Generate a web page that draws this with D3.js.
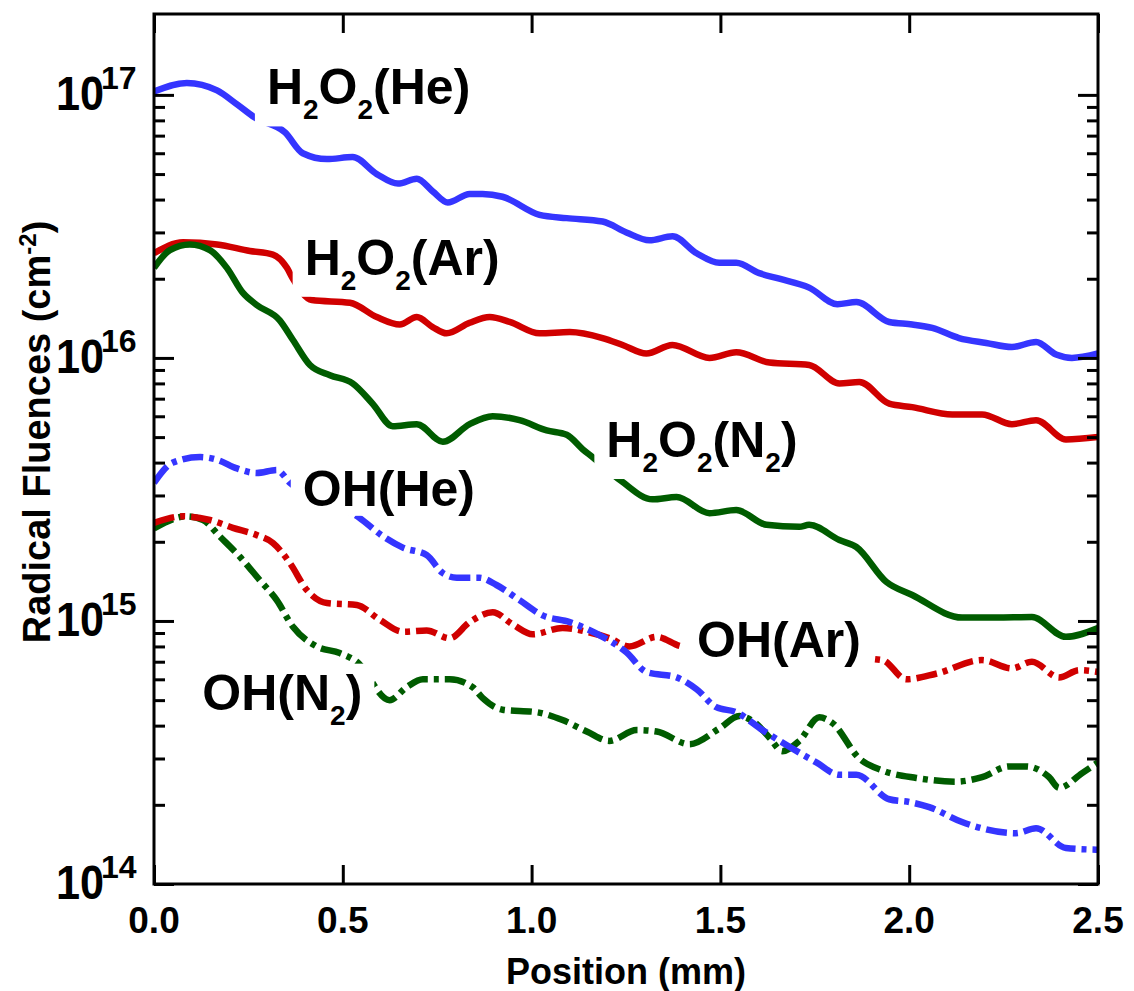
<!DOCTYPE html>
<meta charset="utf-8">
<style>
body { margin: 0; background: #fff; }
svg text { font-family: "Liberation Sans", Arial, sans-serif; font-weight: bold; fill: #000; }
.line { fill: none; stroke-width: 6.5; stroke-linejoin: round; }
.oh { stroke-dasharray: 21 6 5 6; }
.axis line { stroke: #000; stroke-width: 3; }
.axis .minor line { stroke-width: 2.5; }
</style>
<body>
<svg width="1134" height="991"></svg>
<script src="https://cdn.jsdelivr.net/npm/d3@7"></script>
<script>
// position (mm), radical fluence (cm^-2)
var h2o2He = [[0,1.03e17],[0.087,1.11e17],[0.167,1.04e17],[0.22,9.2e16],[0.267,8.2e16],[0.347,7.2e16],[0.394,6.0e16],[0.458,5.7e16],[0.526,5.8e16],[0.59,5.0e16],[0.646,4.6e16],[0.696,4.8e16],[0.738,4.3e16],[0.778,3.9e16],[0.836,4.2e16],[0.87,4.2e16],[0.923,4.1e16],[1.021,3.5e16],[1.093,3.4e16],[1.188,3.3e16],[1.251,3.0e16],[1.312,2.8e16],[1.373,2.9e16],[1.437,2.5e16],[1.497,2.3e16],[1.542,2.3e16],[1.603,2.1e16],[1.656,2.0e16],[1.735,1.85e16],[1.81,1.6e16],[1.86,1.63e16],[1.947,1.37e16],[2.008,1.34e16],[2.061,1.30e16],[2.132,1.19e16],[2.204,1.14e16],[2.272,1.10e16],[2.336,1.15e16],[2.389,1.03e16],[2.431,1.0e16],[2.5,1.04e16]];

var h2o2Ar = [[0,2.5e16],[0.077,2.75e16],[0.167,2.7e16],[0.254,2.55e16],[0.315,2.47e16],[0.352,2.2e16],[0.368,2.0e16],[0.418,1.66e16],[0.519,1.62e16],[0.59,1.43e16],[0.651,1.34e16],[0.696,1.43e16],[0.738,1.31e16],[0.775,1.24e16],[0.836,1.36e16],[0.889,1.43e16],[0.942,1.37e16],[1.021,1.24e16],[1.101,1.255e16],[1.188,1.19e16],[1.241,1.12e16],[1.304,1.04e16],[1.373,1.12e16],[1.471,1.0e16],[1.542,1.05e16],[1.63,9.6e15],[1.735,9.4e15],[1.815,8.0e15],[1.868,8.1e15],[1.947,6.7e15],[2.008,6.5e15],[2.114,6.1e15],[2.193,6.1e15],[2.272,5.6e15],[2.336,5.8e15],[2.415,4.9e15],[2.5,5.0e15]];

var h2o2N2 = [[0,2.2e16],[0.042,2.57e16],[0.095,2.7e16],[0.148,2.57e16],[0.193,2.2e16],[0.235,1.77e16],[0.272,1.59e16],[0.333,1.39e16],[0.368,1.17e16],[0.413,9.4e15],[0.466,8.6e15],[0.526,8.0e15],[0.579,6.7e15],[0.632,5.5e15],[0.696,5.6e15],[0.765,4.8e15],[0.836,5.6e15],[0.897,6.0e15],[0.968,5.8e15],[1.04,5.3e15],[1.093,5.1e15],[1.135,4.5e15],[1.161,4.2e15],[1.238,3.4e15],[1.32,2.9e15],[1.384,2.96e15],[1.471,2.57e15],[1.542,2.64e15],[1.622,2.32e15],[1.709,2.28e15],[1.735,2.32e15],[1.815,2.03e15],[1.86,1.91e15],[1.939,1.41e15],[2.008,1.255e15],[2.14,1.03e15],[2.23,1.03e15],[2.325,1.035e15],[2.415,8.7e14],[2.5,9.4e14]];

var ohHe = [[0,3.35e15],[0.05,4.0e15],[0.122,4.2e15],[0.167,4.1e15],[0.22,3.8e15],[0.272,3.65e15],[0.325,3.75e15],[0.36,3.35e15],[0.545,2.46e15],[0.606,2.1e15],[0.659,1.9e15],[0.722,1.78e15],[0.765,1.52e15],[0.802,1.46e15],[0.862,1.46e15],[0.907,1.37e15],[0.968,1.2e15],[1.029,1.05e15],[1.101,9.9e14],[1.188,8.7e14],[1.251,7.6e14],[1.304,6.4e14],[1.384,6.1e14],[1.437,5.5e14],[1.489,4.7e14],[1.542,4.5e14],[1.611,3.85e14],[1.664,3.45e14],[1.754,2.9e14],[1.815,2.6e14],[1.86,2.6e14],[1.947,2.1e14],[2.0,2.05e14],[2.053,1.96e14],[2.14,1.72e14],[2.283,1.56e14],[2.336,1.63e14],[2.415,1.37e14],[2.5,1.35e14]];

var ohAr = [[0,2.36e15],[0.077,2.5e15],[0.148,2.42e15],[0.209,2.26e15],[0.272,2.12e15],[0.315,1.98e15],[0.36,1.66e15],[0.405,1.31e15],[0.458,1.17e15],[0.537,1.15e15],[0.598,1.01e15],[0.659,9.1e14],[0.722,9.2e14],[0.783,8.6e14],[0.836,9.9e14],[0.897,1.08e15],[0.95,9.7e14],[1.003,8.9e14],[1.082,9.4e14],[1.146,9.1e14],[1.206,8.6e14],[1.259,8.0e14],[1.331,8.7e14],[1.399,8.0e14],[1.55,7.8e14],[1.75,7.4e14],[1.929,7.1e14],[1.992,6.0e14],[2.071,6.3e14],[2.193,7.1e14],[2.272,6.6e14],[2.325,7.0e14],[2.397,6.1e14],[2.45,6.5e14],[2.5,6.4e14]];

var ohN2 = [[0,2.25e15],[0.087,2.5e15],[0.13,2.42e15],[0.175,2.09e15],[0.228,1.75e15],[0.28,1.43e15],[0.325,1.2e15],[0.368,9.5e14],[0.431,8.0e14],[0.492,7.55e14],[0.537,7.0e14],[0.624,5.0e14],[0.669,5.6e14],[0.712,6.0e14],[0.783,6.0e14],[0.844,5.6e14],[0.87,5.1e14],[0.923,4.6e14],[1.013,4.5e14],[1.082,4.2e14],[1.146,3.8e14],[1.206,3.5e14],[1.278,3.85e14],[1.331,3.8e14],[1.418,3.4e14],[1.497,3.9e14],[1.55,4.35e14],[1.59,4.12e14],[1.63,3.6e14],[1.664,3.2e14],[1.709,3.5e14],[1.762,4.3e14],[1.796,4.1e14],[1.868,3.0e14],[1.929,2.7e14],[2.019,2.53e14],[2.124,2.45e14],[2.193,2.55e14],[2.265,2.8e14],[2.31,2.8e14],[2.37,2.55e14],[2.397,2.32e14],[2.458,2.64e14],[2.5,2.9e14]];

var xTicks = [0, 0.5, 1.0, 1.5, 2.0, 2.5];
var xTickLabels = ["0.0", "0.5", "1.0", "1.5", "2.0", "2.5"];
var yExponents = [14, 15, 16, 17];

// label text ("_" = next char subscript) and anchor in data units
var labelTexts = ["H_2O_2(He)", "H_2O_2(Ar)", "H_2O_2(N_2)", "OH(He)", "OH(Ar)", "OH(N_2)"];
var labelAnchors = [[0.299, 9.2e16], [0.399, 2.07e16], [1.198, 4.2e15], [0.394, 2.74e15], [1.438, 7.3e14], [0.128, 4.6e14]];

var series = [
  {data: h2o2He, color: "#3535ff", oh: false},
  {data: h2o2Ar, color: "#d00000", oh: false},
  {data: h2o2N2, color: "#005c00", oh: false},
  {data: ohN2, color: "#005c00", oh: true},
  {data: ohAr, color: "#d00000", oh: true},
  {data: ohHe, color: "#3535ff", oh: true}
];

var svg = d3.select("svg"),
    plotL = 154, plotR = 1098, plotT = 14, plotB = 884;

var x = d3.scaleLinear().domain([0, 2.5]).range([plotL, plotR]);
var y = d3.scaleLog().domain([1e14, 2.03e17]).range([plotB, plotT]);

svg.append("clipPath").attr("id", "plot")
  .append("rect").attr("x", plotL).attr("y", plotT)
  .attr("width", plotR - plotL).attr("height", plotB - plotT);

var line = d3.line()
  .x(function(d) { return x(d[0]); })
  .y(function(d) { return y(d[1]); })
  .curve(d3.curveMonotoneX);

svg.append("g").attr("clip-path", "url(#plot)")
  .selectAll("path").data(series).enter()
  .append("path")
  .attr("class", function(d) { return d.oh ? "line oh" : "line"; })
  .attr("stroke", function(d) { return d.color; })
  .attr("d", function(d) { return line(d.data); });

// curve labels on white boxes
labelTexts.forEach(function(s, i) {
  var g = svg.append("g");
  var bx = x(labelAnchors[i][0]), by = y(labelAnchors[i][1]);
  var box = g.append("rect").attr("fill", "#fff");
  var t = g.append("text").attr("x", bx).attr("y", by).style("font-size", "50px");
  var hasSub = false, shifted = false;
  for (var k = 0; k < s.length; k++) {
    if (s[k] === "_") {
      hasSub = true;
      t.append("tspan").attr("dy", 15).style("font-size", "28px").text(s[k + 1]);
      shifted = true;
      k++;
    } else {
      var sp = t.append("tspan").text(s[k]);
      if (shifted) { sp.attr("dy", -15); shifted = false; }
    }
  }
  var bb = t.node().getBBox();
  var y0 = by - 46, y1 = by + (hasSub ? 22 : 10);
  box.attr("x", bx - 12).attr("y", y0)
    .attr("width", bb.x + bb.width + 12 - (bx - 12))
    .attr("height", y1 - y0);
});

// ticks, all pointing inward
var majors = yExponents.map(function(e) { return Math.pow(10, e); });
var minors = [];
yExponents.forEach(function(e) {
  for (var m = 2; m <= 9; m++) {
    var v = m * Math.pow(10, e);
    if (v < 1.9e17) minors.push(v);
  }
});

function clean(g) { g.select(".domain").remove(); g.selectAll("text").remove(); }

svg.append("g").attr("class", "axis").attr("transform", "translate(0," + plotB + ")")
  .call(d3.axisBottom(x).tickValues(xTicks).tickSize(-19)).call(clean);
svg.append("g").attr("class", "axis").attr("transform", "translate(0," + plotT + ")")
  .call(d3.axisTop(x).tickValues(xTicks).tickSize(-19)).call(clean);
svg.append("g").attr("class", "axis").attr("transform", "translate(" + plotL + ",0)")
  .call(d3.axisLeft(y).tickValues(majors).tickSize(-20)).call(clean);
svg.append("g").attr("class", "axis minor").attr("transform", "translate(" + plotL + ",0)")
  .call(d3.axisLeft(y).tickValues(minors).tickSize(-11)).call(clean);
svg.append("g").attr("class", "axis").attr("transform", "translate(" + plotR + ",0)")
  .call(d3.axisRight(y).tickValues(majors).tickSize(-20)).call(clean);
svg.append("g").attr("class", "axis minor").attr("transform", "translate(" + plotR + ",0)")
  .call(d3.axisRight(y).tickValues(minors).tickSize(-11)).call(clean);

svg.append("rect")
  .attr("x", plotL).attr("y", plotT)
  .attr("width", plotR - plotL).attr("height", plotB - plotT)
  .attr("fill", "none").attr("stroke", "#000").attr("stroke-width", 3);

// x tick labels
svg.append("g").selectAll("text").data(xTicks).enter()
  .append("text")
  .attr("x", function(d) { return x(d); })
  .attr("y", 933)
  .attr("text-anchor", "middle")
  .style("font-size", "37px")
  .text(function(d, i) { return xTickLabels[i]; });

// y tick labels 10^n
var yl = svg.append("g").selectAll("g").data(yExponents).enter()
  .append("g")
  .attr("transform", function(d) { return "translate(56," + y(Math.pow(10, d)) + ")"; });
yl.append("text")
  .attr("transform", "translate(0,15) scale(0.9,1)")
  .style("font-size", "48px")
  .text("10");
yl.append("text")
  .attr("x", 45).attr("y", -6)
  .style("font-size", "32px")
  .text(function(d) { return d; });

// axis titles
svg.append("text")
  .attr("x", (plotL + plotR) / 2).attr("y", 984)
  .attr("text-anchor", "middle")
  .style("font-size", "36px")
  .text("Position (mm)");

var yt = svg.append("text")
  .attr("transform", "translate(50,432) rotate(-90)")
  .attr("text-anchor", "middle")
  .style("font-size", "38px");
yt.append("tspan").text("Radical Fluences (cm");
yt.append("tspan").attr("dy", -14).style("font-size", "24px").text("-2");
yt.append("tspan").attr("dy", 14).text(")");
</script>
</body>
